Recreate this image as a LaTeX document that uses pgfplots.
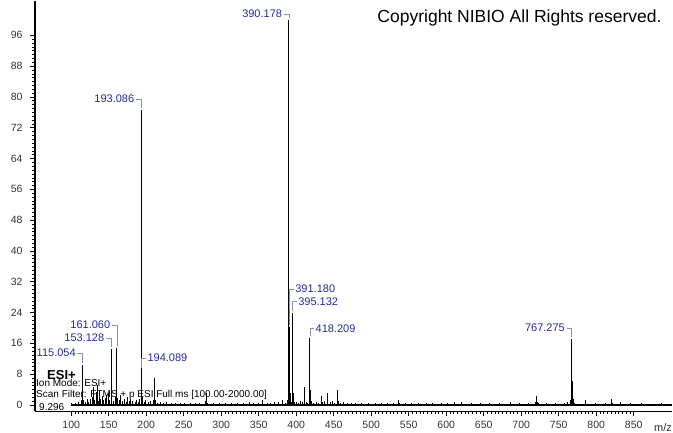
\documentclass[border=0pt]{standalone}
\usepackage{pgfplots}
\pgfplotsset{compat=1.18}
\usepackage{fontspec}
\setmainfont{Liberation Sans}

\definecolor{labblue}{RGB}{40,40,150}
\definecolor{brk}{RGB}{140,140,185}

% peak label with bracket: m/z, intensity, bracket height (pt), text
\newcommand{\lpk}[4]{\draw[brk, line width=0.6pt] (axis cs:#1,#2) ++(0pt,2pt) -- ++(0pt,#3pt) -- ++(-5pt,0pt)
  node[anchor=east, inner sep=1.5pt, text=labblue, font=\fontsize{11}{12}\selectfont]{#4};}
\newcommand{\rpk}[4]{\draw[brk, line width=0.6pt] (axis cs:#1,#2) ++(0pt,2pt) -- ++(0pt,#3pt) -- ++(4pt,0pt)
  node[anchor=west, inner sep=1.5pt, text=labblue, font=\fontsize{11}{12}\selectfont]{#4};}

\begin{document}
\begin{tikzpicture}
\useasboundingbox (0,0) rectangle (673pt,433pt);
\begin{axis}[
    at={(35pt,22pt)}, anchor=south west,
    scale only axis, width=637pt, height=410pt,
    xmin=51.75, xmax=901.1, ymin=-1.56, ymax=104.9,
    axis x line*=bottom, axis y line*=left,
    x axis line style={line width=0.5pt},
    y axis line style={line width=1.2pt},
    tick align=outside,
    major tick length=5pt, minor tick length=3pt,
    xtick={100,150,...,850}, ytick={0,8,...,96},
    minor x tick num=9, minor y tick num=7,
    every tick/.append style={black, line width=0.5pt},
    every minor tick/.append style={black, line width=0.5pt},
    ticklabel style={font=\fontsize{10.5}{12}\selectfont, text=black!80},
    yticklabel style={xshift=-4pt},
    xticklabel style={yshift=-2pt},
    /pgf/number format/assume math mode=true,
    xlabel={m/z},
    xlabel style={at={(axis description cs:0.986,0)}, anchor=center, yshift=-17pt,
      font=\fontsize{11}{12}\selectfont, text=black!80},
    clip=false,
]
% baseline
\addplot[black, line width=1.2pt] coordinates {(100,0) (901,0)};
% centroid peaks
\addplot[ycomb, black, line width=1pt] coordinates {
(100.1,0.6) (105.1,0.5) (110.1,0.8) (113.1,1.2) (115.054,10.4) (116.06,1.2)
(119.1,0.9) (121.1,1.5) (123.1,0.8) (125.1,1.6) (128.1,2.2) (130.1,4.6)
(131.1,1.2) (133.1,3.4) (135.1,5.2) (136.1,1.0) (137.1,3.8) (139.1,1.5)
(141.1,2.4) (143.1,1.3) (145.1,1.8) (147.1,2.6) (149.1,3.0) (151.1,1.4)
(153.128,14.5) (154.1,1.6) (156.1,1.1) (159.1,2.0) (161.060,14.8) (162.1,1.8)
(164.1,1.2) (166.1,2.5) (168.1,1.0) (171.1,1.6) (173.1,0.9) (175.1,2.2)
(177.1,1.0) (179.1,1.6) (182.1,1.1) (185.1,0.8) (187.1,1.4) (189.1,0.7)
(191.1,1.5) (193.086,76.6) (194.089,9.1) (195.1,2.1) (197.1,0.8) (199.1,1.2)
(203.1,0.9) (205.1,1.1) (209.1,1.3) (211.1,7.0) (212.1,1.2) (215.1,0.6)
(219.1,0.8) (223.1,0.5) (227.1,0.7) (233.1,0.6) (239.1,0.5) (245.1,0.4)
(251.1,0.6) (259.1,0.5) (265.1,0.4) (271.1,0.5) (279.1,1.0) (280.1,3.2)
(281.1,0.6) (289.1,0.4) (297.1,0.5) (305.1,0.4) (313.1,0.6) (321.1,0.4)
(329.1,0.5) (338.1,0.7) (343.1,0.4) (349.1,0.5) (355.1,1.3) (361.1,0.5)
(365.1,0.6) (371.1,0.7) (376.1,0.9) (381.1,1.2) (385.1,0.6) (388.2,1.2)
(390.178,100) (391.180,20.3) (392.18,3.0) (393.1,0.9) (395.132,24.0) (396.14,3.2)
(397.1,0.9) (400.1,0.7) (403.1,0.6) (405.1,1.0) (408.1,0.8) (411.2,4.7)
(413.1,0.8) (415.1,0.6) (418.209,17.3) (419.21,4.0) (420.2,1.1) (423.1,0.6)
(427.1,0.8) (430.1,0.6) (434.2,2.4) (435.2,0.8) (438.1,1.0) (441.2,3.2)
(442.2,1.0) (445.1,0.7) (448.1,1.1) (451.1,0.6) (455.3,3.8) (456.3,1.1)
(459.1,0.6) (463.1,0.7) (468.1,0.5) (473.1,0.6) (479.1,0.4) (487.1,0.5)
(496.1,0.4) (505.1,0.5) (513.1,0.4) (522.1,0.5) (529.1,0.4) (536.7,1.4)
(537.7,0.5) (545.1,0.4) (553.1,0.5) (563.1,0.6) (573.1,0.4) (582.1,0.5)
(593.1,0.4) (602.1,0.4) (611.7,0.7) (620.7,0.8) (633.1,0.4) (645.1,0.4)
(657.1,0.4) (671.1,0.4) (685.2,0.9) (686.2,0.5) (697.1,0.4) (709.1,0.4)
(719.3,0.8) (720.4,2.4) (721.4,0.9) (723.3,0.6) (733.1,0.4) (745.1,0.4)
(757.2,0.5) (762.2,0.7) (765.3,1.2) (767.275,17.1) (768.28,6.2) (769.28,1.6)
(771.2,0.5) (785.3,1.3) (786.3,0.4) (799.1,0.4) (812.1,0.4) (820.7,1.6)
(821.7,0.5) (832.1,0.9) (845.1,0.4) (860.7,0.5) (875.1,0.3) (887.3,0.5)
(895.1,0.3)
};
% peak labels
\lpk{390.178}{100}{4}{390.178}
\lpk{193.086}{76.6}{9}{193.086}
\lpk{161.060}{14.8}{21}{161.060}
\lpk{153.128}{14.5}{9}{153.128}
\lpk{115.054}{10.4}{10}{115.054}
\rpk{194.089}{9.1}{10}{194.089}
\rpk{391.180}{20.3}{36}{391.180}
\rpk{395.132}{24.0}{9}{395.132}
\rpk{418.209}{17.3}{8}{418.209}
\lpk{767.275}{17.1}{9}{767.275}
\end{axis}
% header and scan information
\node[anchor=east, font=\fontsize{17.5}{19}\selectfont] at (665pt,415pt) {Copyright NIBIO All Rights reserved.};
\node[anchor=west, inner sep=0pt, font=\bfseries\fontsize{13}{14}\selectfont] at (47pt,58pt) {ESI+};
\node[anchor=west, inner sep=0pt, font=\fontsize{10}{11}\selectfont] at (36pt,50pt) {Ion Mode: ESI+};
\node[anchor=west, inner sep=0pt, font=\fontsize{10}{11}\selectfont] at (36pt,38pt) {Scan Filter: FTMS + p ESI Full ms [100.00-2000.00]};
\node[anchor=west, inner sep=0pt, font=\fontsize{10}{11}\selectfont] at (39pt,26pt) {9.296};
\end{tikzpicture}
\end{document}
